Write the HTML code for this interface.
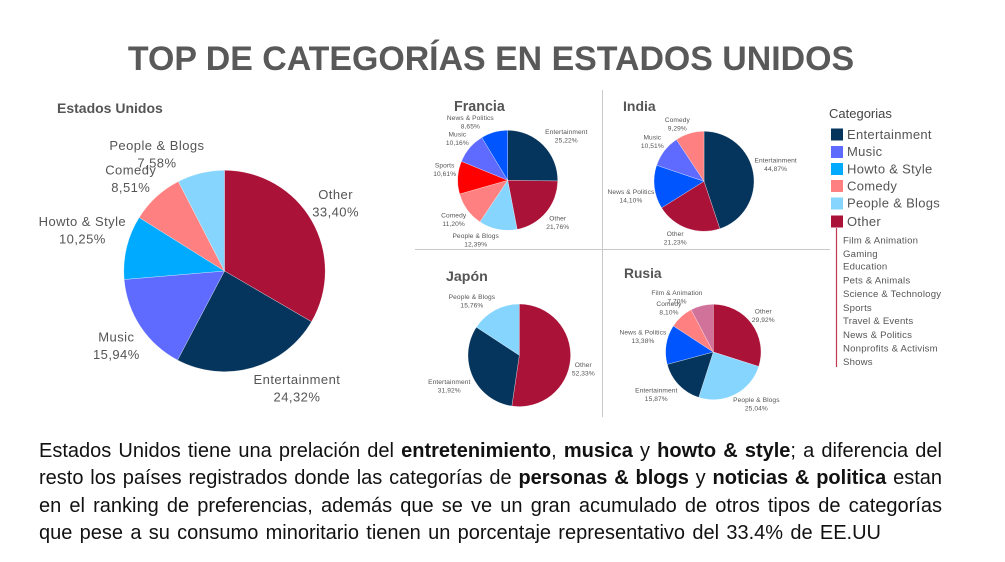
<!DOCTYPE html>
<html lang="es">
<head>
<meta charset="utf-8">
<title>Top de categorías en Estados Unidos</title>
<style>
  html, body { margin: 0; padding: 0; background: #fff; }
  #page { position: relative; width: 1005px; height: 562px; overflow: hidden; background: #fff; font-family: "Liberation Sans", sans-serif; }
  #chart { position: absolute; left: 0; top: 0; }
  #body-text { position: absolute; left: 39px; top: 438px; width: 903px; font-size: 20px; line-height: 27.4px; color: #111; }
  #body-text div { text-align: justify; text-align-last: justify; white-space: nowrap; }
  #body-text div.last-line { text-align: left; text-align-last: left; width: 842px; text-align-last: justify; }
  #body-text b { font-weight: bold; }
  .small { filter: blur(0.25px); }
</style>
</head>
<body>
<div id="page">
  <svg id="chart" width="1005" height="562" viewBox="0 0 1005 562">
    <text x="491" y="70" text-anchor="middle" font-size="33.9" font-weight="bold" fill="#595959">TOP DE CATEGORÍAS EN ESTADOS UNIDOS</text>

    <line x1="602.5" y1="90" x2="602.5" y2="417" stroke="#c9c9c9" stroke-width="1"/>
    <line x1="415" y1="249.5" x2="830" y2="249.5" stroke="#c9c9c9" stroke-width="1"/>

    <text x="57" y="113" font-size="14" font-weight="bold" fill="#555">Estados Unidos</text>
    <text x="454" y="111" font-size="14.3" font-weight="bold" fill="#555">Francia</text>
    <text x="623" y="111" font-size="14" font-weight="bold" fill="#555">India</text>
    <text x="446" y="281" font-size="14.2" font-weight="bold" fill="#555">Japón</text>
    <text x="624" y="278" font-size="13.8" font-weight="bold" fill="#555">Rusia</text>

    <g id="pies"></g>

    <g fill="#555">
      <text x="829" y="118" font-size="13" fill="#444">Categorias</text>
      <g font-size="13" letter-spacing="0.3">
        <g><rect x="831" y="128.500" width="12" height="12" fill="#05345c"/><text x="847" y="139">Entertainment</text></g>
        <g><rect x="831" y="146" width="12" height="12" fill="#5f6bff"/><text x="847" y="156">Music</text></g>
        <g><rect x="831" y="163" width="12" height="12" fill="#00aaff"/><text x="847" y="173.500">Howto &amp; Style</text></g>
        <g><rect x="831" y="180" width="12" height="12" fill="#ff8080"/><text x="847" y="190.500">Comedy</text></g>
        <g><rect x="831" y="197.500" width="12" height="12" fill="#85d5ff"/><text x="847" y="207.500">People &amp; Blogs</text></g>
        <g><rect x="831" y="215.500" width="12" height="12" fill="#ab1238"/><text x="847" y="226">Other</text></g>
      </g>
      <line x1="836.500" y1="228" x2="836.500" y2="367" stroke="#c0394f" stroke-width="1.2"/>
      <g font-size="9.6" letter-spacing="0.2">
        <text x="843" y="243.500">Film &amp; Animation</text>
        <text x="843" y="257">Gaming</text>
        <text x="843" y="269.500">Education</text>
        <text x="843" y="283.500">Pets &amp; Animals</text>
        <text x="843" y="297">Science &amp; Technology</text>
        <text x="843" y="311">Sports</text>
        <text x="843" y="324">Travel &amp; Events</text>
        <text x="843" y="338">News &amp; Politics</text>
        <text x="843" y="351.500">Nonprofits &amp; Activism</text>
        <text x="843" y="365">Shows</text>
      </g>
    </g>
  </svg>

  <div id="body-text">
    <div>Estados Unidos tiene una prelación del <b>entretenimiento</b>, <b>musica</b> y <b>howto &amp; style</b>; a diferencia del</div>
    <div>resto los países registrados donde las categorías de <b>personas &amp; blogs</b> y <b>noticias &amp; politica</b> estan</div>
    <div>en el ranking de preferencias, además que se ve un gran acumulado de otros tipos de categorías</div>
    <div class="last-line">que pese a su consumo minoritario tienen un porcentaje representativo del 33.4% de EE.UU</div>
  </div>
</div>

<script>
const usaCategories = ['Other', 'Entertainment', 'Music', 'Howto & Style', 'Comedy', 'People & Blogs'];
const usaValues = [33.40, 24.32, 15.94, 10.25, 8.51, 7.58];

const franceCategories = ['Entertainment', 'Other', 'People & Blogs', 'Comedy', 'Sports', 'Music', 'News & Politics'];
const franceValues = [25.22, 21.76, 12.39, 11.20, 10.61, 10.16, 8.65];

const indiaCategories = ['Entertainment', 'Other', 'News & Politics', 'Music', 'Comedy'];
const indiaValues = [44.87, 21.23, 14.10, 10.51, 9.29];

const japanCategories = ['Other', 'Entertainment', 'People & Blogs'];
const japanValues = [52.33, 31.92, 15.76];

const russiaCategories = ['Other', 'People & Blogs', 'Entertainment', 'News & Politics', 'Comedy', 'Film & Animation'];
const russiaValues = [29.92, 25.04, 15.87, 13.38, 8.10, 7.70];

const colorFor = {
  'Other': '#ab1238',
  'Entertainment': '#05345c',
  'Music': '#5f6bff',
  'Howto & Style': '#00aaff',
  'Comedy': '#ff8080',
  'People & Blogs': '#85d5ff',
  'News & Politics': '#0055ff',
  'Sports': '#ff0000',
  'Film & Animation': '#d0729a'
};

const pieLayouts = [
  { id: 'usa', categories: usaCategories, values: usaValues, cx: 224.5, cy: 271, r: 100.7, font: 13, gap: 17.6, spacing: 0.45, nudge: {
    'Other': [-2.4, -2.7], 'Entertainment': [36.4, -8.9], 'Music': [1, 2.1], 'Howto & Style': [-14.9, -10.2], 'Comedy': [-5.1, 3.9], 'People & Blogs': [-36.7, 10.3] } },
  { id: 'france', categories: franceCategories, values: franceValues, cx: 507.7, cy: 180.3, r: 50, font: 6.6, gap: 8.5, spacing: 0.1, nudge: {
    'Entertainment': [12.3, 1], 'Other': [0.2, 0.2], 'People & Blogs': [-19.1, -4.3], 'Comedy': [-1.5, 0.7], 'Sports': [1.9, -7.4], 'Music': [-1, 0.2], 'News & Politics': [-19.9, 4.3] } },
  { id: 'india', categories: indiaCategories, values: indiaValues, cx: 704, cy: 181.3, r: 50, font: 6.6, gap: 8.5, spacing: 0.1, nudge: {
    'Entertainment': [7.5, -6.6], 'Other': [-6.8, -4.8], 'News & Politics': [-8.5, 7.1], 'Music': [-0.2, -0.3], 'Comedy': [-8, 5] } },
  { id: 'japan', categories: japanCategories, values: japanValues, cx: 519.3, cy: 355.3, r: 51.3, font: 6.6, gap: 8.5, spacing: 0.1, nudge: {
    'Other': [-2.5, 8.5], 'Entertainment': [-9.2, 3.1], 'People & Blogs': [-15.7, 4.1] } },
  { id: 'russia', categories: russiaCategories, values: russiaValues, cx: 713.3, cy: 352, r: 47.7, font: 6.6, gap: 8.5, spacing: 0.1, nudge: {
    'Other': [-0.1, -0.2], 'People & Blogs': [14.7, -3.1], 'Entertainment': [-12.1, -0.5], 'News & Politics': [-9.1, -5.9], 'Comedy': [-2.6, 1.9], 'Film & Animation': [-21.5, 4.9] } }
];

const SVG_NS = 'http://www.w3.org/2000/svg';
const piesGroup = document.getElementById('pies');

function slug(text) {
  return text.toLowerCase().replace(/[^a-z]+/g, '-');
}

function angleScale(values) {
  const total = values.reduce((a, b) => a + b, 0);
  return v => (v / total) * Math.PI * 2;
}

function polar(cx, cy, r, angle) {
  return [cx + r * Math.sin(angle), cy - r * Math.cos(angle)];
}

function formatValue(v) {
  return v.toFixed(2).replace('.', ',') + '%';
}

function drawPie(p) {
  const group = document.createElementNS(SVG_NS, 'g');
  
  
  if (p.id !== 'usa') group.setAttribute('class', 'small');
  piesGroup.appendChild(group);

  const toAngle = angleScale(p.values);
  let start = 0;
  const labels = [];

  p.values.forEach((value, i) => {
    const name = p.categories[i];
    const sweep = toAngle(value);
    const end = start + sweep;
    const a = polar(p.cx, p.cy, p.r, start);
    const b = polar(p.cx, p.cy, p.r, end);
    const large = sweep > Math.PI ? 1 : 0;

    const slice = document.createElementNS(SVG_NS, 'path');
    slice.setAttribute('d', 'M' + p.cx + ' ' + p.cy + 'L' + a[0] + ' ' + a[1] + 'A' + p.r + ' ' + p.r + ' 0 ' + large + ' 1 ' + b[0] + ' ' + b[1] + 'Z');
    slice.setAttribute('fill', colorFor[name]);
    slice.setAttribute('stroke', '#fff');
    slice.setAttribute('stroke-width', '0.3');
    
    
    group.appendChild(slice);

    const mid = start + sweep / 2;
    const anchor = polar(p.cx, p.cy, p.r * 1.3, mid);
    const nudge = p.nudge[name] || [0, 0];
    labels.push({ name: name, value: value, x: anchor[0] + nudge[0], y: anchor[1] + nudge[1] });
    start = end;
  });

  labels.forEach(l => {
    const label = document.createElementNS(SVG_NS, 'text');
    
    
    label.setAttribute('text-anchor', 'middle');
    label.setAttribute('font-size', p.font);
    label.setAttribute('letter-spacing', p.spacing);
    label.setAttribute('fill', '#555');

    const nameLine = document.createElementNS(SVG_NS, 'tspan');
    nameLine.setAttribute('x', l.x);
    nameLine.setAttribute('y', l.y - p.gap / 2 + p.font * 0.36);
    nameLine.textContent = l.name;
    label.appendChild(nameLine);

    const valueLine = document.createElementNS(SVG_NS, 'tspan');
    valueLine.setAttribute('x', l.x);
    valueLine.setAttribute('y', l.y + p.gap / 2 + p.font * 0.36);
    valueLine.textContent = formatValue(l.value);
    label.appendChild(valueLine);

    group.appendChild(label);
  });
}

pieLayouts.forEach(drawPie);
</script>
</body>
</html>
